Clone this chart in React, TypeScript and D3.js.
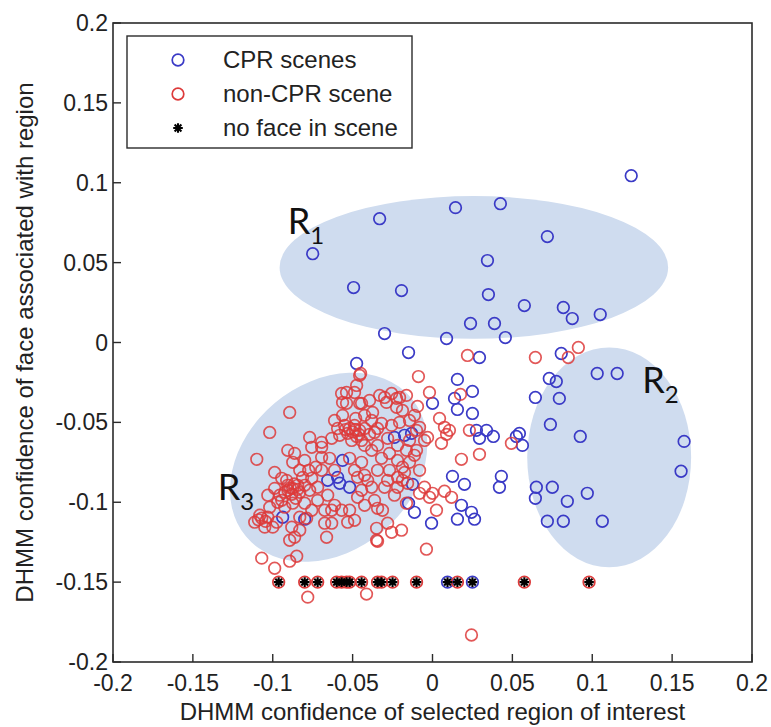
import React from "react";
import * as d3 from "d3";

// ---- data (x: DHMM confidence of selected region, y: DHMM confidence of face) ----
const cprPoints: [number, number][] = [
  [0.1244, 0.1044], [0.0144, 0.0844], [0.0425, 0.0869], [0.0719, 0.0663], [0.0344, 0.0513],
  [0.035, 0.03], [0.0575, 0.0231], [0.0819, 0.0219], [0.0875, 0.015], [0.105, 0.0175],
  [0.0238, 0.0119], [0.0388, 0.0119], [0.0456, 0.0031], [0.0088, 0.0025], [-0.015, -0.0063],
  [0.0294, -0.0094], [0.0806, -0.0069], [0.1031, -0.0194], [0.1156, -0.0194], [0.0731, -0.0225],
  [0.0775, -0.0244], [0.0156, -0.0231], [0.025, -0.0306], [-0.075, 0.0556], [-0.0331, 0.0775],
  [-0.0494, 0.0344], [-0.0194, 0.0325], [-0.03, 0.0056], [-0.0475, -0.0131], [0.0138, -0.035],
  [0.0644, -0.0344], [0.0794, -0.035], [0.0, -0.0381], [0.0156, -0.0419], [0.025, -0.0444],
  [0.0738, -0.0513], [0.0925, -0.0588], [0.1575, -0.0619], [0.1556, -0.0806], [0.0275, -0.055],
  [0.0338, -0.055], [0.0294, -0.06], [0.0381, -0.0588], [0.0544, -0.0569], [0.0563, -0.0644],
  [0.0525, -0.0588], [0.0431, -0.0838], [0.0419, -0.0906], [0.065, -0.0906], [0.075, -0.0906],
  [0.0644, -0.0975], [0.0844, -0.0994], [0.0969, -0.0944], [0.0719, -0.1119], [0.0819, -0.1119],
  [0.1063, -0.1119], [0.0125, -0.0838], [0.02, -0.0888], [0.0181, -0.1019], [0.0244, -0.1063],
  [0.0156, -0.1106], [0.0263, -0.1106], [-0.0006, -0.1131], [-0.0125, -0.0888], [-0.015, -0.1006],
  [-0.0113, -0.1063], [-0.0238, -0.0594], [-0.0175, -0.0581], [-0.0131, -0.0569], [-0.0656, -0.0863],
  [-0.0594, -0.0844], [-0.0563, -0.0738], [-0.0581, -0.0881], [-0.0519, -0.0906], [-0.0938, -0.1094],
  [-0.08, -0.1106],
];

const nonCprPoints: [number, number][] = [
  [0.0219, -0.0081], [0.0644, -0.0094], [0.085, -0.0094], [0.0913, -0.0031], [-0.045, -0.0194],
  [-0.0088, -0.0213], [-0.0019, -0.0313], [0.0175, -0.0325], [-0.0163, -0.0331], [-0.0206, -0.0344],
  [-0.0094, -0.04], [0.0044, -0.0475], [0.0075, -0.0531], [0.0106, -0.055], [0.0088, -0.0575],
  [0.0231, -0.055], [-0.0031, -0.0594], [-0.005, -0.0613], [-0.01, -0.055], [0.0056, -0.0631],
  [0.0181, -0.0731], [0.0294, -0.07], [-0.0113, -0.0706], [-0.0188, -0.0781], [-0.0188, -0.0863],
  [-0.005, -0.0906], [0.0, -0.0944], [0.0075, -0.0931], [0.0119, -0.0969], [-0.0081, -0.0944],
  [-0.0163, -0.1006], [0.0025, -0.105], [-0.0194, -0.1175], [-0.0038, -0.1294], [0.0494, -0.0631],
  [-0.0538, -0.0313], [-0.0488, -0.0313], [-0.0563, -0.0375], [-0.0456, -0.0381], [-0.03, -0.0344],
  [-0.0225, -0.035],
  [-0.1069, -0.135], [-0.0988, -0.1413], [-0.0894, -0.1369], [-0.085, -0.1338], [-0.0781, -0.1594],
  [-0.0413, -0.1575], [-0.0344, -0.1244], [0.0244, -0.1831],
  [-0.0894, -0.0438], [-0.1019, -0.0563], [-0.11, -0.0731], [-0.0988, -0.0813], [-0.0906, -0.0675],
  [-0.0863, -0.0694], [-0.0569, -0.0319], [-0.0475, -0.0269], [-0.0456, -0.0206], [-0.0538, -0.0381],
  [-0.0444, -0.0381], [-0.0256, -0.0319], [-0.0288, -0.0375], [-0.0225, -0.0406], [-0.0563, -0.0456],
  [-0.0425, -0.0456], [-0.0375, -0.0438],
  [-0.055, -0.0519], [-0.0519, -0.0538], [-0.0488, -0.0519], [-0.0456, -0.055], [-0.0531, -0.0569],
  [-0.0475, -0.0588], [-0.0425, -0.0538], [-0.0394, -0.0575], [-0.0506, -0.0613], [-0.0581, -0.0581],
  [-0.0381, -0.0488], [-0.0319, -0.0506], [-0.0363, -0.0563], [-0.0256, -0.0519], [-0.0206, -0.05],
  [-0.0144, -0.0488], [-0.0081, -0.0531], [-0.01, -0.0675], [-0.0163, -0.0675], [-0.0219, -0.0738],
  [-0.0269, -0.0694], [-0.0319, -0.0725], [-0.0381, -0.0675], [-0.0631, -0.06], [-0.0694, -0.0656],
  [-0.0756, -0.0656], [-0.08, -0.0738], [-0.0875, -0.075],
  [-0.0694, -0.0719], [-0.0644, -0.0725], [-0.0731, -0.0781], [-0.0775, -0.08], [-0.0694, -0.08],
  [-0.0813, -0.0844], [-0.0769, -0.0925], [-0.0719, -0.0906], [-0.0613, -0.08],
  [-0.0906, -0.0894], [-0.0875, -0.0913], [-0.0844, -0.0894], [-0.0925, -0.0938], [-0.0881, -0.095],
  [-0.0831, -0.0938], [-0.0956, -0.0956], [-0.0856, -0.0975], [-0.08, -0.0894], [-0.0913, -0.0863],
  [-0.089, -0.091], [-0.0865, -0.0885], [-0.0905, -0.0925], [-0.0845, -0.092],
  [-0.1113, -0.1125], [-0.1069, -0.11], [-0.1031, -0.1094], [-0.0975, -0.1125], [-0.105, -0.1156],
  [-0.1, -0.1156], [-0.0881, -0.1156], [-0.0831, -0.1094], [-0.0788, -0.11], [-0.0756, -0.105],
  [-0.08, -0.1006], [-0.0875, -0.1006], [-0.0925, -0.1031], [-0.0969, -0.1], [-0.1019, -0.1031],
  [-0.1081, -0.1081], [-0.0863, -0.1219], [-0.0894, -0.1238], [-0.109, -0.111], [-0.1045, -0.112],
  [-0.0675, -0.1131], [-0.0631, -0.105], [-0.0569, -0.105], [-0.0531, -0.1125], [-0.0519, -0.105],
  [-0.0631, -0.1131], [-0.0663, -0.1219], [-0.0831, -0.1175],
  [-0.0469, -0.0844], [-0.0406, -0.0863], [-0.0344, -0.08], [-0.0281, -0.0863], [-0.0219, -0.0844],
  [-0.03, -0.0906], [-0.0381, -0.0906], [-0.0444, -0.0925], [-0.0469, -0.0969], [-0.0363, -0.0988],
  [-0.0219, -0.0906], [-0.0156, -0.0881], [-0.0344, -0.1038], [-0.035, -0.1163], [-0.0281, -0.1131],
  [-0.035, -0.1238], [-0.0256, -0.1188], [-0.0019, -0.0969],
  [-0.0519, -0.0725], [-0.0444, -0.075], [-0.0488, -0.08], [-0.0425, -0.0644], [-0.0344, -0.0644],
  [-0.0144, -0.075], [-0.0081, -0.08], [-0.05, -0.056], [-0.0545, -0.0545], [-0.046, -0.0575],
  [-0.0485, -0.0545], [-0.0769, -0.0594], [-0.0694, -0.0625],
  [-0.0613, -0.0488], [-0.0594, -0.0538], [-0.0481, -0.0475], [-0.0444, -0.0613], [-0.0344, -0.0538],
  [-0.0281, -0.06], [-0.0219, -0.0644], [-0.0144, -0.0613], [-0.0113, -0.0456], [-0.0188, -0.0425],
  [-0.0331, -0.0331], [-0.0394, -0.0363], [-0.0831, -0.08], [-0.0756, -0.085], [-0.0944, -0.085],
  [-0.0988, -0.0913], [-0.1031, -0.0956], [-0.0944, -0.0988], [-0.0719, -0.0988], [-0.0656, -0.0956],
  [-0.0613, -0.1019], [-0.0675, -0.105], [-0.0425, -0.0831], [-0.0269, -0.08], [-0.0175, -0.0813],
  [-0.0238, -0.0956], [-0.0313, -0.105], [-0.0425, -0.1019], [-0.0488, -0.1113],
];

const noFaceCprX = [0.0094, 0.025];
const noFaceNonCprX = [
  -0.0963, -0.08, -0.0719, -0.06, -0.0569, -0.0538, -0.0519, -0.0444, -0.0344, -0.0319,
  -0.025, -0.01, 0.0156, 0.0575, 0.098,
];
const NO_FACE_Y = -0.15;

const xTicks = [-0.2, -0.15, -0.1, -0.05, 0, 0.05, 0.1, 0.15, 0.2];
const yTicks = [-0.2, -0.15, -0.1, -0.05, 0, 0.05, 0.1, 0.15, 0.2];
const legendLabels = ["CPR scenes", "non-CPR scene", "no face in scene"];
const xTitle = "DHMM confidence of selected region of interest";
const yTitle = "DHMM confidence of face associated with region";

// region annotations (data units)
const regionNames = ["1", "2", "3"];
const regionCx = [0.0259, 0.1106, -0.065];
const regionCy = [0.047, -0.0719, -0.0781];
const regionRx = [0.1216, 0.0513, 0.0675];
const regionRy = [0.0447, 0.0688, 0.0525];
const regionAngle = [0, 0, -40];
const regionLabelX = [-0.0906, 0.1313, -0.1344];
const regionLabelY = [0.0681, -0.0313, -0.0988];

const W = 771;
const H = 727;
const BLUE = "#3a3ac6";
const RED = "#dd3a3a";
const FONT = "'Liberation Sans', Arial, sans-serif";

const x = d3.scaleLinear().domain([-0.2, 0.2]).range([113, 752]);
const y = d3.scaleLinear().domain([-0.2, 0.2]).range([662, 23]);

const fmt = (v: number) => String(+v.toFixed(2));

function Star({ cx, cy }: { cx: number; cy: number }) {
  const s = 4.8;
  const d = 3.4;
  const p = `M${cx - s},${cy}L${cx + s},${cy}M${cx},${cy - s}L${cx},${cy + s}M${cx - d},${cy - d}L${cx + d},${cy + d}M${cx - d},${cy + d}L${cx + d},${cy - d}`;
  return <path d={p} stroke="#000" strokeWidth={2.1} fill="none" />;
}

export default function App() {
  const [x0, x1] = x.range();
  const [y0, y1] = y.range();
  const R = 5.8;
  return (
    <svg width={W} height={H} style={{ position: "absolute", left: 0, top: 0, background: "#fff" }}>
      <rect x={0} y={0} width={W} height={H} fill="#fff" />
      {/* region ellipses */}
      {regionNames.map((n, i) => {
        const cx = x(regionCx[i]);
        const cy = y(regionCy[i]);
        const rx = x(regionCx[i] + regionRx[i]) - cx;
        const ry = cy - y(regionCy[i] + regionRy[i]);
        return (
          <ellipse
            key={"e" + n}
            cx={cx}
            cy={cy}
            rx={rx}
            ry={ry}
            fill="#cfdcef"
            transform={`rotate(${regionAngle[i]},${cx},${cy})`}
          />
        );
      })}
      {regionNames.map((n, i) => (
        <text
          key={"t" + n}
          x={x(regionLabelX[i])}
          y={y(regionLabelY[i])}
          fontFamily="Lato, 'Open Sans', sans-serif"
          fontSize={36}
          fill="#111"
        >
          R<tspan fontSize={24} dy={10}>{n}</tspan>
        </text>
      ))}

      {/* CPR points */}
      {cprPoints.map((p, i) => (
        <circle key={"b" + i} cx={x(p[0])} cy={y(p[1])} r={R} fill="none" stroke={BLUE} strokeWidth={1.7} />
      ))}
      {noFaceCprX.map((v, i) => (
        <circle key={"bf" + i} cx={x(v)} cy={y(NO_FACE_Y)} r={R} fill="none" stroke={BLUE} strokeWidth={1.7} />
      ))}
      {/* non-CPR points */}
      {nonCprPoints.map((p, i) => (
        <circle key={"r" + i} cx={x(p[0])} cy={y(p[1])} r={R} fill="none" stroke={RED} strokeOpacity={0.85} strokeWidth={1.7} />
      ))}
      {noFaceNonCprX.map((v, i) => (
        <circle key={"rf" + i} cx={x(v)} cy={y(NO_FACE_Y)} r={R} fill="none" stroke={RED} strokeWidth={1.7} />
      ))}
      {/* no-face markers */}
      {[...noFaceNonCprX, ...noFaceCprX].map((v, i) => (
        <Star key={"s" + i} cx={x(v)} cy={y(NO_FACE_Y)} />
      ))}

      {/* axes box */}
      <rect x={x0} y={y1} width={x1 - x0} height={y0 - y1} fill="none" stroke="#2b2b2b" strokeWidth={1.6} />
      {xTicks.map((t) => (
        <g key={"xt" + t}>
          <line x1={x(t)} x2={x(t)} y1={y0} y2={y0 - 8} stroke="#2b2b2b" strokeWidth={1.4} />
          <text x={x(t)} y={y0 + 29} textAnchor="middle" fontFamily={FONT} fontSize={23} fill="#222">
            {fmt(t)}
          </text>
        </g>
      ))}
      {yTicks.map((t) => (
        <g key={"yt" + t}>
          <line x1={x0} x2={x0 + 8} y1={y(t)} y2={y(t)} stroke="#2b2b2b" strokeWidth={1.4} />
          <text x={x0 - 5} y={y(t) + 8} textAnchor="end" fontFamily={FONT} fontSize={23} fill="#222">
            {fmt(t)}
          </text>
        </g>
      ))}
      <text x={(x0 + x1) / 2} y={720} textAnchor="middle" fontFamily={FONT} fontSize={24} fill="#222">
        {xTitle}
      </text>
      <text
        transform={`translate(33,${(y0 + y1) / 2}) rotate(-90)`}
        textAnchor="middle"
        fontFamily={FONT}
        fontSize={24}
        fill="#222"
      >
        {yTitle}
      </text>

      {/* legend */}
      <rect x={127} y={36} width={285} height={112} fill="#fff" stroke="#2b2b2b" strokeWidth={1.4} />
      {legendLabels.map((l, i) => {
        const cy = 60 + i * 34;
        return (
          <g key={"lg" + i}>
            {i === 0 && <circle cx={178} cy={cy} r={R} fill="none" stroke={BLUE} strokeWidth={1.7} />}
            {i === 1 && <circle cx={178} cy={cy} r={R} fill="none" stroke={RED} strokeWidth={1.7} />}
            {i === 2 && <Star cx={178} cy={cy} />}
            <text x={223} y={cy + 8} fontFamily={FONT} fontSize={24} fill="#222">
              {l}
            </text>
          </g>
        );
      })}
    </svg>
  );
}
